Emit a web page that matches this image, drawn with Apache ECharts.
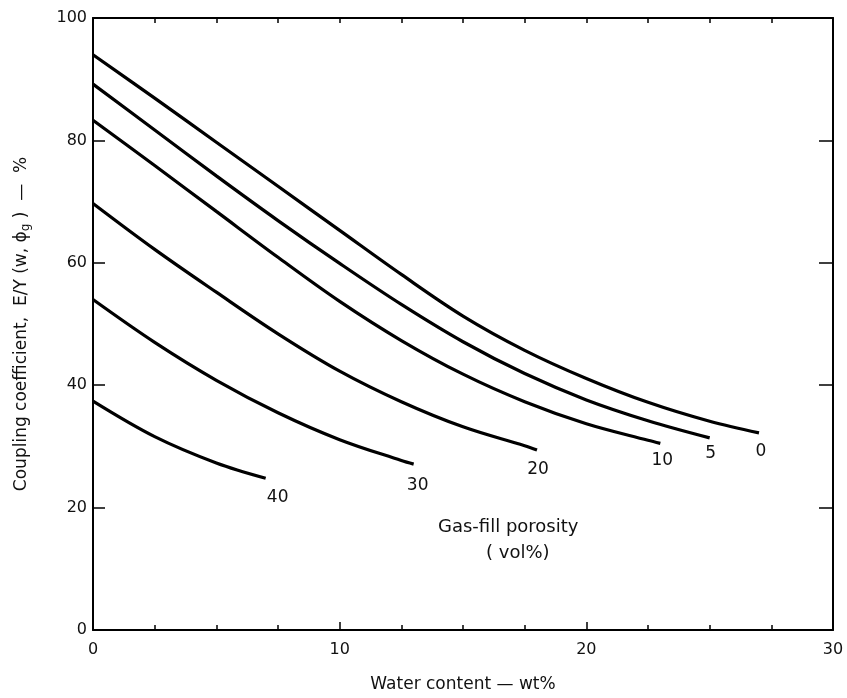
<!DOCTYPE html>
<html>
<head>
<meta charset="utf-8">
<script src="https://cdn.jsdelivr.net/npm/echarts@6/dist/echarts.min.js"></script>
<style>
  html, body { margin: 0; padding: 0; background: #fff; }
  #chart { width: 847px; height: 698px; }
</style>
</head>
<body>
<div id="chart"></div>
<script>
// Water content (wt%) sample points and coupling coefficient (%) per gas-fill porosity curve
const porosityLabels = ['0', '5', '10', '20', '30', '40'];

const water0 = [0, 2.5, 5, 7.5, 10, 12.5, 15, 17.5, 20, 22.5, 25, 27];
const coup0  = [94, 86.9, 79.7, 72.5, 65.3, 58.1, 51.3, 45.7, 41.1, 37.2, 34.1, 32.2];

const water5 = [0, 2.5, 5, 7.5, 10, 12.5, 15, 17.5, 20, 22.5, 25];
const coup5  = [89.2, 81.7, 74.2, 66.9, 59.9, 53.2, 47.1, 41.9, 37.6, 34.2, 31.4];

const water10 = [0, 2.5, 5, 7.5, 10, 12.5, 15, 17.5, 20, 22.5, 23];
const coup10  = [83.3, 75.9, 68.4, 60.9, 53.7, 47.3, 41.8, 37.3, 33.7, 31.0, 30.5];

const water20 = [0, 2.5, 5, 7.5, 10, 12.5, 15, 17.5, 18];
const coup20  = [69.7, 62.2, 55.2, 48.4, 42.3, 37.3, 33.2, 30.1, 29.4];

const water30 = [0, 2.5, 5, 7.5, 10, 12.5, 13];
const coup30  = [54, 47.0, 40.8, 35.5, 31.1, 27.7, 27.1];

const water40 = [0, 2.5, 5, 7];
const coup40  = [37.4, 31.6, 27.3, 24.8];

const waterSets = [water0, water5, water10, water20, water30, water40];
const coupSets  = [coup0, coup5, coup10, coup20, coup30, coup40];

// label nudges (px) from each curve's end point
const labelOffsets = [[2, 19], [1, 16], [2, 17], [1, 20], [4, 21], [12, 19]];

const FONT = 'DejaVu Sans';
const INK = '#111';

const series = porosityLabels.map(function (name, i) {
  const xs = waterSets[i], ys = coupSets[i];
  const data = xs.map(function (x, k) {
    const item = { value: [x, ys[k]] };
    if (k === xs.length - 1) {
      item.label = {
        show: true,
        formatter: name,
        position: 'inside',
        offset: labelOffsets[i],
        color: INK,
        fontFamily: FONT,
        fontSize: 17
      };
    }
    return item;
  });
  return {
    type: 'line',
    name: name + ' vol%',
    smooth: 0.35,
    symbol: 'circle',
    symbolSize: 0,
    showSymbol: true,
    lineStyle: { color: '#000', width: 3.2 },
    itemStyle: { color: '#000' },
    data: data,
    z: 3
  };
});

// empty series keep the frame axes (top / right) active
series.push({ type: 'line', xAxisIndex: 1, yAxisIndex: 1, data: [], silent: true });

const axisLine = { show: true, onZero: false, lineStyle: { color: '#000', width: 2 } };
const tickStyle = { color: '#000', width: 1.5 };

const chart = echarts.init(document.getElementById('chart'), null, { renderer: 'canvas' });
chart.setOption({
  backgroundColor: '#fff',
  animation: false,
  grid: { left: 93, right: 14, top: 18, bottom: 62 },
  xAxis: [
    {
      type: 'value', min: 0, max: 30, interval: 10, position: 'bottom',
      name: 'Water content \u2014 wt%', nameLocation: 'middle', nameGap: 46,
      nameTextStyle: { fontFamily: FONT, fontSize: 17, color: INK },
      axisLine: axisLine,
      axisTick: { show: true, inside: true, length: 8, lineStyle: tickStyle },
      minorTick: { show: true, splitNumber: 4, length: 5, lineStyle: tickStyle },
      axisLabel: { fontFamily: FONT, fontSize: 16, color: INK, margin: 12 },
      splitLine: { show: false }, minorSplitLine: { show: false }
    },
    {
      type: 'value', min: 0, max: 30, interval: 10, position: 'top',
      axisLine: axisLine,
      axisTick: { show: true, inside: true, length: 5, lineStyle: tickStyle },
      minorTick: { show: true, splitNumber: 4, length: 5, lineStyle: tickStyle },
      axisLabel: { show: false },
      splitLine: { show: false }, minorSplitLine: { show: false }
    }
  ],
  yAxis: [
    {
      type: 'value', min: 0, max: 100, interval: 20, position: 'left',
      name: 'Coupling coefficient,  E/Y (w, \u03d5{sub|g} )  \u2014  %',
      nameLocation: 'middle', nameGap: 61, nameRotate: 90,
      nameTextStyle: {
        fontFamily: FONT, fontSize: 17, color: INK,
        rich: { sub: { fontFamily: FONT, fontSize: 12, color: INK, verticalAlign: 'bottom', padding: [9, 0, 0, 0] } }
      },
      axisLine: axisLine,
      axisTick: { show: true, inside: true, length: 12, lineStyle: tickStyle },
      axisLabel: { fontFamily: FONT, fontSize: 16, color: INK, margin: 6 },
      splitLine: { show: false }
    },
    {
      type: 'value', min: 0, max: 100, interval: 20, position: 'right',
      axisLine: axisLine,
      axisTick: { show: true, inside: true, length: 14, lineStyle: tickStyle },
      axisLabel: { show: false },
      splitLine: { show: false }
    }
  ],
  graphic: [
    {
      type: 'text', left: 438, top: 518, z: 10,
      style: { text: 'Gas-fill porosity', fontFamily: FONT, fontSize: 18, fill: INK }
    },
    {
      type: 'text', left: 486, top: 544, z: 10,
      style: { text: '( vol%)', fontFamily: FONT, fontSize: 18, fill: INK }
    }
  ],
  series: series
});
</script>
</body>
</html>
